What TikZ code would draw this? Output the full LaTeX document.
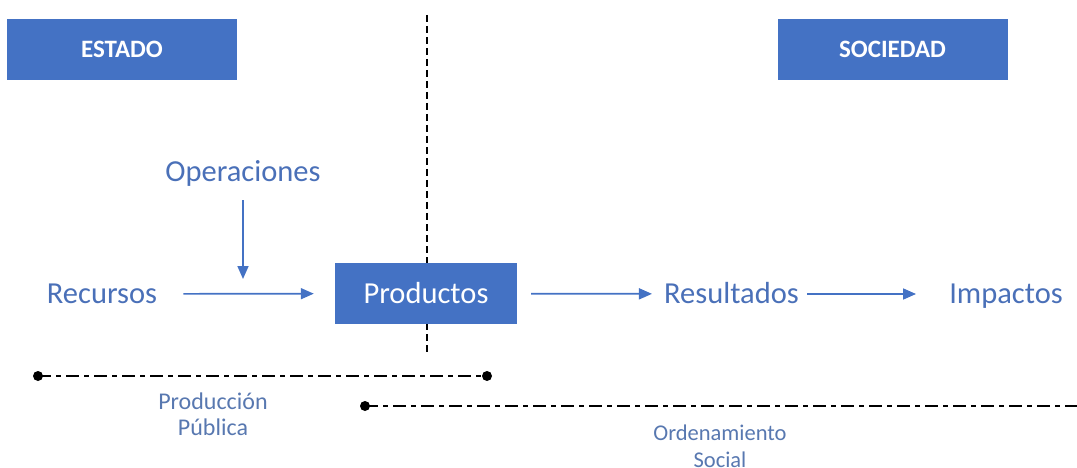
\documentclass[tikz,border=0pt]{standalone}
\usepackage{fontspec}
\setmainfont{Carlito}
\usetikzlibrary{arrows.meta}
\definecolor{boxblue}{HTML}{4472C4}
\definecolor{txtblue}{HTML}{4A70B8}
\definecolor{lowblue}{HTML}{5878B0}
\begin{document}
\begin{tikzpicture}[x=1pt,y=-1pt,
  hdr/.style={fill=boxblue,text=white,minimum width=230pt,minimum height=61pt,inner sep=0pt,font=\fontsize{25}{28}\selectfont\bfseries},
  prodbox/.style={fill=boxblue,text=white,minimum width=182pt,minimum height=61pt,inner sep=0pt,text height=25pt,text depth=6pt,font=\fontsize{30.5}{34}\selectfont},
  lbl/.style={text=txtblue,inner sep=0pt,text height=22pt,text depth=4pt,font=\fontsize{30.5}{34}\selectfont},
  low/.style={text=lowblue,inner sep=0pt,align=center},
  arr/.style={draw=boxblue,line width=1.7pt,-{Triangle[length=13pt,width=11pt]}},
  vdash/.style={draw=black,line width=1.8pt,dash pattern=on 7pt off 4pt},
  dashdot/.style={draw=black,line width=2.6pt,dash pattern=on 13pt off 5pt on 5pt off 5pt},
  dotn/.style={circle,fill=black,inner sep=0pt,minimum size=10pt}]
\useasboundingbox (0,0) rectangle (1077,468);
% vertical divider
\coordinate (vtop) at (427,15);
\coordinate (vbot) at (427,352);
\draw[vdash] (vtop) -- (vbot);
% headers
\node[hdr] (estado) at (122,49.5) {ESTADO};
\node[hdr] (sociedad) at (892.5,49.5) {SOCIEDAD};
% main flow
\node[lbl] (rec) at (102,294) {Recursos};
\node[prodbox] (prod) at (426,293.5) {Productos};
\node[lbl] (res) at (731.5,294) {Resultados};
\node[lbl] (imp) at (1006,294) {Impactos};
\node[lbl] (ops) at (243,173) {Operaciones};
\coordinate (opend) at (243,279);
\draw[arr,shorten <=26pt,shorten >=21pt] (rec) -- (prod);
\draw[arr,shorten <=14pt,shorten >=12pt] (prod) -- (res);
\draw[arr,shorten <=8pt,shorten >=33pt] (res) -- (imp);
\draw[arr,shorten <=14pt] (ops) -- (opend);
% bottom ranges
\node[dotn] (pa) at (38,376) {};
\node[dotn] (pb) at (487,376) {};
\draw[dashdot] (pa.center) -- (pb.center);
\node[low,font=\fontsize{24}{26}\selectfont] (pp) at (213,414) {Producción\\Pública};
\node[dotn] (oa) at (365,406) {};
\coordinate (ob) at (1080,406);
\draw[dashdot] (oa.center) -- (ob);
\node[low,font=\fontsize{22.5}{27}\selectfont] (os) at (720,446) {Ordenamiento\\Social};
\end{tikzpicture}
\end{document}
